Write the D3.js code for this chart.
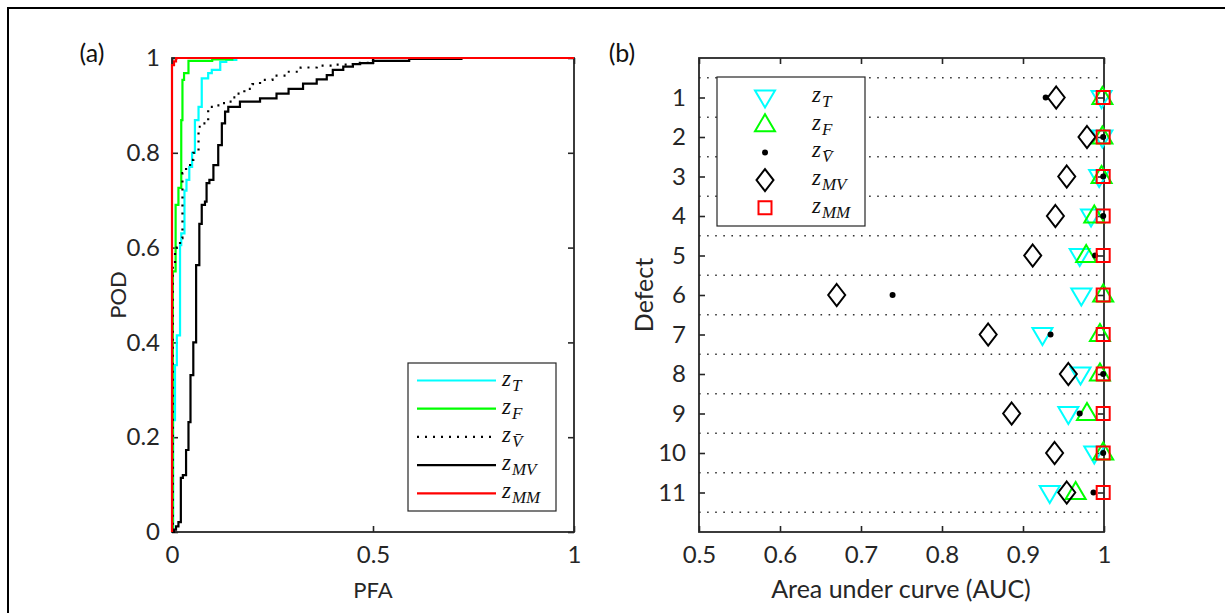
<!DOCTYPE html>
<html>
<head>
<meta charset="utf-8">
<script src="https://cdn.jsdelivr.net/npm/d3@7"></script>
<style>
  html, body { margin: 0; padding: 0; background: #fff; }
  svg { display: block; }
  .tick text { font-family: Lato, "Open Sans", sans-serif; font-size: 24px; fill: #262626; }
</style>
</head>
<body>
<script>
// ---------------- DATA ----------------
// Panel (a): ROC curves, points = [PFA, POD] at the top of each riser
const rocT = [[0,0],[0.003,0.236],[0.0075,0.352],[0.012,0.415],[0.02,0.605],[0.023,0.63],[0.031,0.72],[0.036,0.743],[0.043,0.77],[0.05,0.80],[0.057,0.869],[0.066,0.897],[0.074,0.957],[0.09,0.968],[0.099,0.975],[0.12,0.992],[0.135,0.996],[0.16,1],[1,1]];
const rocF = [[0,0],[0.002,0.55],[0.009,0.69],[0.016,0.726],[0.023,0.869],[0.026,0.954],[0.03,0.968],[0.041,0.994],[0.1,0.997],[0.15,1],[1,1]];
const rocV = [[0,0],[0.002,0.56],[0.0075,0.60],[0.02,0.62],[0.026,0.757],[0.035,0.77],[0.045,0.785],[0.053,0.80],[0.066,0.855],[0.074,0.862],[0.09,0.897],[0.105,0.90],[0.12,0.905],[0.136,0.908],[0.15,0.917],[0.161,0.925],[0.18,0.935],[0.2,0.945],[0.219,0.954],[0.25,0.963],[0.285,0.971],[0.32,0.98],[0.36,0.984],[0.40,0.986],[0.45,0.99],[0.5,1],[1,1]];
const rocMV = [[0,0],[0.005,0.005],[0.01,0.012],[0.016,0.021],[0.022,0.114],[0.027,0.12],[0.035,0.173],[0.041,0.232],[0.046,0.331],[0.053,0.40],[0.06,0.563],[0.068,0.65],[0.074,0.69],[0.082,0.697],[0.086,0.736],[0.093,0.743],[0.103,0.774],[0.115,0.816],[0.124,0.862],[0.132,0.887],[0.14,0.897],[0.169,0.908],[0.219,0.915],[0.26,0.925],[0.29,0.935],[0.326,0.946],[0.36,0.955],[0.385,0.964],[0.40,0.975],[0.426,0.982],[0.45,0.987],[0.468,0.989],[0.5,0.994],[0.59,0.998],[0.72,1],[1,1]];
const rocMM = [[0,0],[0,0.985],[0.005,0.993],[0.01,1],[1,1]];

const pfaTicks = [0, 0.5, 1];
const podTicks = [0, 0.2, 0.4, 0.6, 0.8, 1];

// Panel (b): AUC per defect
const defects = [1,2,3,4,5,6,7,8,9,10,11];
const aucT  = [0.997,0.998,0.994,0.984,0.970,0.972,0.924,0.971,0.956,0.988,0.933];
const aucF  = [0.998,0.998,0.997,0.988,0.978,0.999,0.995,0.995,0.979,0.999,0.965];
const aucV  = [0.928,0.999,0.999,0.999,0.989,0.739,0.934,0.999,0.970,0.999,0.987];
const aucMV = [0.941,0.979,0.954,0.940,0.912,0.670,0.857,0.956,0.886,0.939,0.954];
const aucMM = [0.999,0.999,0.999,0.999,0.999,0.999,0.999,0.999,0.999,0.999,0.999];
const aucTicks = [0.5, 0.6, 0.7, 0.8, 0.9, 1];

const seriesNames = [["z","T"],["z","F"],["z","V\u0304"],["z","MV"],["z","MM"]];

// ---------------- DRAW ----------------
const W = 1225, H = 613;
const axisColor = "#262626";
const svg = d3.select("body").append("svg").attr("width", W).attr("height", H);
svg.append("rect").attr("width", W).attr("height", H).attr("fill", "#fff");

// figure frame (top & left visible)
svg.append("path").attr("d", "M8,613V8H1225").attr("fill","none").attr("stroke","#000").attr("stroke-width",2);

const sansFont = "Lato, 'Open Sans', sans-serif";
const mathFont = "'Liberation Serif', 'DejaVu Serif', serif";

function styleAxis(g) {
  g.select(".domain").remove();
  g.selectAll(".tick line").attr("stroke", axisColor).attr("stroke-width", 1.6);
}
function mathLabel(sel, x, y, parts) {
  const t = sel.append("text").attr("x", x).attr("y", y)
    .attr("font-family", mathFont).attr("font-style", "italic").attr("fill", "#111");
  t.append("tspan").attr("font-size", 23).text(parts[0]);
  t.append("tspan").attr("font-size", 17).attr("dy", 5).attr("dx", 1).text(parts[1]);
}

// ===== Panel (a) =====
const xA = d3.scaleLinear().domain([0,1]).range([172,574]);
const yA = d3.scaleLinear().domain([0,1]).range([532,58]);
const gA = svg.append("g");

gA.append("g").attr("transform","translate(0,532)")
  .call(d3.axisBottom(xA).tickValues(pfaTicks).tickSize(-6).tickPadding(14).tickFormat(d3.format("")))
  .call(styleAxis);
gA.append("g").attr("transform","translate(0,58)")
  .call(d3.axisTop(xA).tickValues(pfaTicks).tickSize(-6).tickFormat(""))
  .call(styleAxis);
gA.append("g").attr("transform","translate(172,0)")
  .call(d3.axisLeft(yA).tickValues(podTicks).tickSize(-6).tickPadding(12).tickFormat(d3.format("")))
  .call(styleAxis);
gA.append("g").attr("transform","translate(574,0)")
  .call(d3.axisRight(yA).tickValues(podTicks).tickSize(-6).tickFormat(""))
  .call(styleAxis);
gA.append("rect").attr("x", xA(0)).attr("y", yA(1)).attr("width", xA(1)-xA(0)).attr("height", yA(0)-yA(1))
  .attr("fill","none").attr("stroke", axisColor).attr("stroke-width", 1.8);

const lineA = d3.line().x(d => xA(d[0])).y(d => yA(d[1])).curve(d3.curveStepAfter);
const rocSeries = [
  {data: rocT, color: "#00ffff", dash: null},
  {data: rocF, color: "#00ff00", dash: null},
  {data: rocV, color: "#000", dash: "2,6"},
  {data: rocMV, color: "#000", dash: null},
  {data: rocMM, color: "#ff0000", dash: null}
];
rocSeries.forEach(s => {
  gA.append("path").attr("d", lineA(s.data)).attr("fill","none")
    .attr("stroke", s.color).attr("stroke-width", 2.2)
    .attr("stroke-dasharray", s.dash);
});

gA.append("text").attr("x", 373).attr("y", 598).attr("text-anchor","middle")
  .attr("font-family", sansFont).attr("font-size", 22).attr("fill", axisColor).text("PFA");
gA.append("text").attr("transform","translate(117,295) rotate(-90)").attr("text-anchor","middle")
  .attr("dominant-baseline","central")
  .attr("font-family", sansFont).attr("font-size", 22).attr("fill", axisColor).text("POD");
gA.append("text").attr("x", 92).attr("y", 52).attr("text-anchor","middle").attr("dominant-baseline","central")
  .attr("font-family", sansFont).attr("font-size", 25).attr("fill", "#111").text("(a)");

// legend (a)
const legA = gA.append("g");
legA.append("rect").attr("x",408).attr("y",363).attr("width",148).attr("height",148)
  .attr("fill","#fff").attr("stroke", axisColor).attr("stroke-width",1.2);
rocSeries.forEach((s,i) => {
  const yy = 380.5 + i*28.2;
  legA.append("line").attr("x1",417).attr("x2",496).attr("y1",yy).attr("y2",yy)
    .attr("stroke", s.color).attr("stroke-width", 2.2).attr("stroke-dasharray", s.dash);
  mathLabel(legA, 502, yy + 5, seriesNames[i]);
});

// ===== Panel (b) =====
const xB = d3.scaleLinear().domain([0.5,1]).range([699,1104]);
const yB = d3.scaleLinear().domain([0,12]).range([58,532]);
const gB = svg.append("g");

// dotted grid between defects
const gridVals = defects.map(d => d - 0.5).concat([defects[defects.length-1] + 0.5]);
gB.selectAll("line.grid").data(gridVals).join("line").attr("class","grid")
  .attr("x1", xB(0.5)).attr("x2", xB(1)).attr("y1", d => yB(d)).attr("y2", d => yB(d))
  .attr("stroke", "#333").attr("stroke-width", 1.6).attr("stroke-dasharray", "1.6,6.5");

gB.append("g").attr("transform","translate(0,532)")
  .call(d3.axisBottom(xB).tickValues(aucTicks).tickSize(-6).tickPadding(14).tickFormat(d3.format("")))
  .call(styleAxis);
gB.append("g").attr("transform","translate(0,58)")
  .call(d3.axisTop(xB).tickValues(aucTicks).tickSize(-6).tickFormat(""))
  .call(styleAxis);
gB.append("g").attr("transform","translate(699,0)")
  .call(d3.axisLeft(yB).tickValues(defects).tickSize(-6).tickPadding(13).tickFormat(d3.format("d")))
  .call(styleAxis);
gB.append("g").attr("transform","translate(1104,0)")
  .call(d3.axisRight(yB).tickValues(defects).tickSize(-6).tickFormat(""))
  .call(styleAxis);
gB.append("rect").attr("x", xB(0.5)).attr("y", yB(0)).attr("width", xB(1)-xB(0.5)).attr("height", yB(12)-yB(0))
  .attr("fill","none").attr("stroke", axisColor).attr("stroke-width", 1.8);

gB.append("text").attr("x", 901).attr("y", 598).attr("text-anchor","middle")
  .attr("font-family", sansFont).attr("font-size", 25).attr("fill", axisColor).text("Area under curve (AUC)");
gB.append("text").attr("transform","translate(643,295) rotate(-90)").attr("text-anchor","middle")
  .attr("dominant-baseline","central")
  .attr("font-family", sansFont).attr("font-size", 25).attr("fill", axisColor).text("Defect");
gB.append("text").attr("x", 622).attr("y", 52).attr("text-anchor","middle").attr("dominant-baseline","central")
  .attr("font-family", sansFont).attr("font-size", 25).attr("fill", "#111").text("(b)");

// marker shapes
const shapes = {
  down: "M-10,-6.5L10,-6.5L0,10.5Z",
  up: "M-10,6.5L10,6.5L0,-10.5Z",
  diamond: "M0,-11L8.5,0L0,11L-8.5,0Z",
  square: "M-6.5,-6.5H6.5V6.5H-6.5Z"
};
const aucSeries = [
  {vals: aucT, shape: "down", color: "#00ffff"},
  {vals: aucF, shape: "up", color: "#00ff00"},
  {vals: aucV, shape: "dot", color: "#000"},
  {vals: aucMV, shape: "diamond", color: "#000"},
  {vals: aucMM, shape: "square", color: "#ff0000"}
];
function drawMarker(g, x, y, s) {
  if (s.shape === "dot") {
    g.append("circle").attr("cx", x).attr("cy", y).attr("r", 3).attr("fill", s.color);
  } else {
    g.append("path").attr("d", shapes[s.shape]).attr("transform", `translate(${x},${y})`)
      .attr("fill","none").attr("stroke", s.color).attr("stroke-width", 2);
  }
}

// legend (b)
const legB = gB.append("g");
legB.append("rect").attr("x",717).attr("y",77).attr("width",148).attr("height",149)
  .attr("fill","#fff").attr("stroke", axisColor).attr("stroke-width",1.2);
aucSeries.forEach((s,i) => {
  const yy = 97 + i*27.7;
  drawMarker(legB, 765, yy, s);
  mathLabel(legB, 812, yy + 5, seriesNames[i]);
});

aucSeries.forEach(s => {
  s.vals.forEach((v, i) => drawMarker(gB, xB(v), yB(defects[i]), s));
});
</script>
</body>
</html>
